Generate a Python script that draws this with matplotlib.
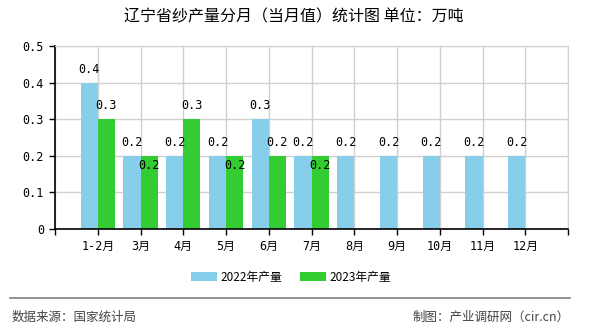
import matplotlib
matplotlib.use("Agg")
import matplotlib.pyplot as plt
from matplotlib.patches import Patch
from matplotlib.lines import Line2D
import numpy as np

plt.rcParams['font.family'] = ['Noto Sans CJK SC', 'DejaVu Sans']

title = "辽宁省纱产量分月（当月值）统计图 单位：万吨"
months = ["1-2月", "3月", "4月", "5月", "6月", "7月", "8月", "9月", "10月", "11月", "12月"]
y2022 = [0.4, 0.2, 0.2, 0.2, 0.3, 0.2, 0.2, 0.2, 0.2, 0.2, 0.2]
y2023 = [0.3, 0.2, 0.3, 0.2, 0.2, 0.2]
series_names = ["2022年产量", "2023年产量"]
yticks = [0, 0.1, 0.2, 0.3, 0.4, 0.5]
source = "数据来源：国家统计局"
maker = "制图：产业调研网（cir.cn）"

c22 = "#87CEEB"
c23 = "#33CC33"
W, H = 590, 330
fig = plt.figure(figsize=(W / 100, H / 100), dpi=100)
ax = fig.add_axes([55 / W, 1 - 229 / H, (568 - 55) / W, (229 - 46) / H])

x = np.arange(len(months))
bw = 0.4
ax.bar(x[:len(y2022)] - bw / 2, y2022, width=bw, color=c22, zorder=2)
x23 = x[:len(y2023)]
ax.bar(x23 + bw / 2, y2023, width=bw, color=c23, zorder=2)

num_font = ['DejaVu Sans Mono', 'Noto Sans CJK SC']
for xi, v in zip(x, y2022):
    ax.annotate(f"{v:.1f}", (xi - bw / 2, v), xytext=(0, 5), textcoords="offset points",
                ha="center", va="bottom", fontsize=8.5, family=num_font, zorder=3)
for xi, v, b in zip(x23, y2023, y2022):
    if abs(v - b) < 1e-9:
        ax.annotate(f"{v:.1f}", (xi + bw / 2, v), xytext=(0, -2), textcoords="offset points",
                    ha="center", va="top", fontsize=8.5, family=num_font, zorder=3)
    else:
        ax.annotate(f"{v:.1f}", (xi + bw / 2, v), xytext=(0, 5), textcoords="offset points",
                    ha="center", va="bottom", fontsize=8.5, family=num_font, zorder=3)

ax.set_xlim(-1, len(months))
ax.set_ylim(0, 0.5)
ax.set_yticks(yticks)
ax.set_yticklabels(["0" if t == 0 else f"{t:.1f}" for t in yticks], family=num_font, fontsize=8.5)
ax.set_xticks(list(x) + [-1, len(months)])
ax.set_xticklabels(months + ["", ""], fontsize=8.5, family=num_font)
ax.tick_params(axis='both', length=4, width=1, color='black', pad=4)
ax.grid(True, color="#d0d0d0", linewidth=1, zorder=0)
for s in ["top", "right"]:
    ax.spines[s].set_color("#d0d0d0")
for s in ["left", "bottom"]:
    ax.spines[s].set_color("black")
    ax.spines[s].set_linewidth(1.2)
ax.set_axisbelow(True)

fig.text(294 / W, 1 - 17 / H, title, ha="center", va="center", fontsize=11.5)

handles = [Patch(facecolor=c22, edgecolor='none'), Patch(facecolor=c23, edgecolor='none')]
fig.legend(handles, series_names, loc="center", bbox_to_anchor=(291 / W, 1 - 277 / H),
           ncol=2, frameon=False, fontsize=8.5, handlelength=2.2, handleheight=0.75,
           handletextpad=0.3, columnspacing=1.5)

fig.add_artist(Line2D([10 / W, 570 / W], [1 - 298 / H, 1 - 298 / H], color="#808080", linewidth=1.2))
fig.text(12 / W, 1 - 317 / H, source, ha="left", va="center", fontsize=9, color="#444444")
fig.text(570 / W, 1 - 317 / H, maker, ha="right", va="center", fontsize=9, color="#444444")

fig.savefig("out.png", dpi=100)
